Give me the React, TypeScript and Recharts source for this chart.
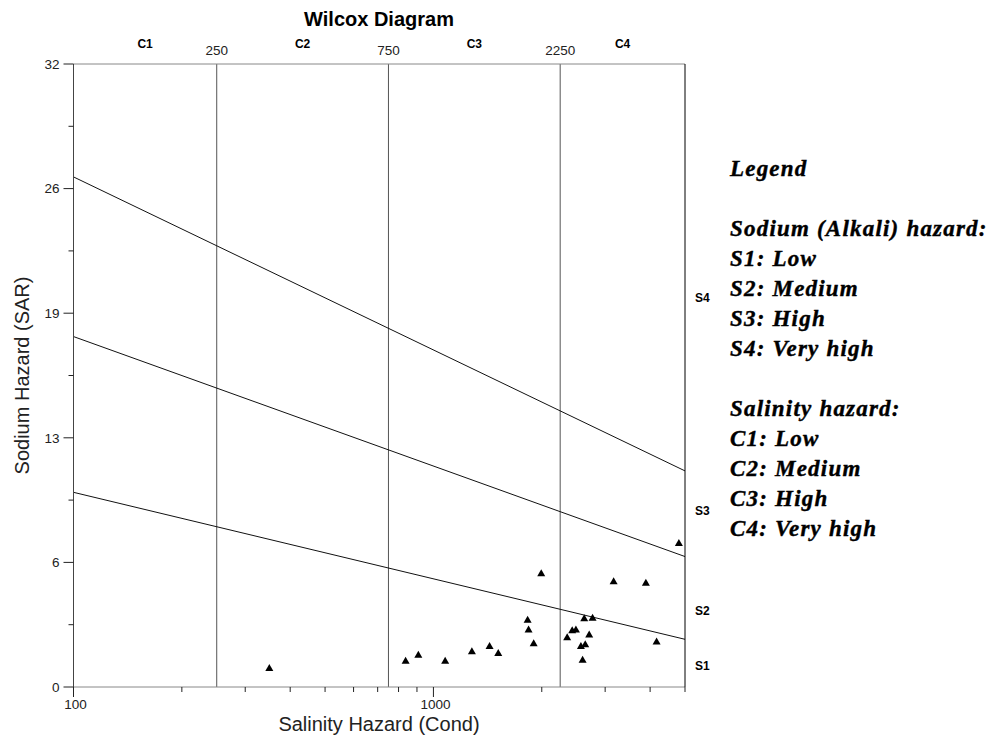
import React from "react";
import { ReferenceLine, Scatter, ScatterChart, XAxis, YAxis } from "recharts";

// samples
const ecValues = [350, 837, 908, 1078, 1279, 1432, 1514, 1827, 1838, 1899, 1993, 2353, 2430, 2488, 2569, 2641, 2597, 2624, 2709, 2768, 3167, 3893, 4169, 4808];
const sarValues = [0.95, 1.32, 1.62, 1.32, 1.8, 2.08, 1.72, 3.42, 2.92, 2.21, 5.81, 2.52, 2.88, 2.92, 2.08, 2.16, 1.37, 3.5, 2.66, 3.52, 5.4, 5.32, 2.31, 7.36];

// class boundaries
const salinityBounds = [100, 250, 750, 2250, 5000];
const salinityClasses = ["C1", "C2", "C3", "C4"];
const sodiumClasses = ["S1", "S2", "S3", "S4"];
const sodiumLabelAt = [1.1, 3.9, 9.05, 20];
const sodiumLines = [
  [{ x: 100, y: 10 }, { x: 5000, y: 2.45 }],
  [{ x: 100, y: 18 }, { x: 5000, y: 6.7 }],
  [{ x: 100, y: 26.2 }, { x: 5000, y: 11.1 }],
];

const condTicks = [100, 200, 300, 400, 500, 600, 700, 800, 900, 1000, 2000, 3000, 4000, 5000];
const condLabels = [100, 1000];
const sarTicks = [0, 3.2, 6.4, 9.6, 12.8, 16, 19.2, 22.4, 25.6, 28.8, 32];

const legendLines = [
  "Legend",
  "",
  "Sodium (Alkali) hazard:",
  "S1: Low",
  "S2: Medium",
  "S3: High",
  "S4: Very high",
  "",
  "Salinity hazard:",
  "C1: Low",
  "C2: Medium",
  "C3: High",
  "C4: Very high",
];

const samples = ecValues.map((ec, i) => ({ ec, sar: sarValues[i] }));
const classMid = salinityClasses.map((_, i) => Math.sqrt(salinityBounds[i] * salinityBounds[i + 1]));

const sans = "'Liberation Sans', Arial, sans-serif";

const CondTick = (props: any) => {
  const { x, y, payload } = props;
  const major = condLabels.includes(payload.value);
  return (
    <g>
      <line x1={x} x2={x} y1={y} y2={y + (major ? 10 : 5)} stroke="#222" />
      {major && (
        <text x={x + 2} y={y + 22} textAnchor="middle" fontSize={13.5} fill="#222">
          {payload.value}
        </text>
      )}
    </g>
  );
};

const SarTick = (props: any) => {
  const { x, y, payload, index } = props;
  const major = index % 2 === 0;
  return (
    <g>
      <line x1={x - (major ? 10 : 5)} x2={x} y1={y} y2={y} stroke="#222" />
      {major && (
        <text x={x - 14} y={y} dy="0.35em" textAnchor="end" fontSize={13.5} fill="#222">
          {Math.round(payload.value)}
        </text>
      )}
    </g>
  );
};

const SodiumTick = (props: any) => {
  const { x, y, payload } = props;
  return (
    <text x={x + 10} y={y} dy="0.35em" textAnchor="start" fontSize={12} fontWeight="bold" fill="#000">
      {sodiumClasses[sodiumLabelAt.indexOf(payload.value)]}
    </text>
  );
};

const Triangle = (props: any) => {
  const { cx, cy } = props;
  return <path d={`M${cx},${cy - 4.6}L${cx + 4},${cy + 2.4}L${cx - 4},${cy + 2.4}Z`} fill="#000" />;
};

export default function App() {
  return (
    <div style={{ position: "relative", width: 978, height: 727 }}>
      <div
        style={{
          position: "absolute",
          left: 221,
          top: 0,
          width: 300,
          textAlign: "center",
          font: `bold 20px ${sans}`,
          lineHeight: "22px",
        }}
      >
        Wilcox Diagram
      </div>
      <ScatterChart
        width={978}
        height={727}
        margin={{ top: 0, right: 261, bottom: 0, left: 0 }}
        style={{ fontFamily: sans }}
      >
        <XAxis
          dataKey="ec"
          type="number"
          scale="log"
          domain={[100, 5000]}
          allowDataOverflow
          ticks={condTicks}
          interval={0}
          height={48}
          tickSize={0}
          tickMargin={0}
          tickLine={false}
          tick={CondTick}
          axisLine={{ stroke: "#888" }}
        />
        <XAxis
          xAxisId="c"
          orientation="top"
          dataKey="ec"
          type="number"
          scale="log"
          domain={[100, 5000]}
          allowDataOverflow
          ticks={classMid}
          interval={0}
          height={56}
          tickSize={0}
          tickMargin={16}
          tickLine={false}
          tickFormatter={(v: number) => salinityClasses[classMid.indexOf(v)]}
          tick={{ fontSize: 12, fontWeight: "bold", fill: "#000" }}
          axisLine={{ stroke: "#888" }}
        />
        <YAxis
          dataKey="sar"
          type="number"
          domain={[0, 32]}
          ticks={sarTicks}
          interval={0}
          width={65.5}
          tickSize={0}
          tickMargin={0}
          tickLine={false}
          tick={SarTick}
          axisLine={{ stroke: "#444" }}
          label={{
            value: "Sodium Hazard (SAR)",
            angle: -90,
            position: "insideLeft",
            offset: 14,
            fontSize: 20,
            fill: "#222",
            style: { textAnchor: "middle" },
          }}
        />
        <YAxis
          yAxisId="s"
          orientation="right"
          dataKey="sar"
          type="number"
          domain={[0, 32]}
          allowDataOverflow
          ticks={sodiumLabelAt}
          interval={0}
          width={40}
          tickSize={0}
          tickMargin={0}
          tickLine={false}
          tick={SodiumTick}
          axisLine={{ stroke: "#000" }}
        />
        {salinityBounds.slice(1, 4).map((b) => (
          <ReferenceLine
            key={b}
            x={b}
            stroke="#555"
            label={{ value: String(b), position: "top", offset: 9, fontSize: 13.5, fill: "#222" }}
          />
        ))}
        {sodiumLines.map((seg, i) => (
          <ReferenceLine key={i} yAxisId="s" segment={seg} stroke="#111" ifOverflow="visible" />
        ))}
        <Scatter data={samples} shape={Triangle} fill="#000" isAnimationActive={false} />
      </ScatterChart>
      <div
        style={{
          position: "absolute",
          left: 171,
          top: 708,
          width: 400,
          textAlign: "center",
          font: `20px ${sans}`,
          lineHeight: "16px",
          color: "#222",
        }}
      >
        Salinity Hazard (Cond)
      </div>
      <div
        style={{
          position: "absolute",
          left: 722,
          top: 146,
          font: "italic bold 23px 'Liberation Serif', 'Times New Roman', serif",
          letterSpacing: 1.2,
          lineHeight: "30px",
          whiteSpace: "pre",
          color: "#000",
          WebkitTextStroke: "0.4px #000",
        }}
      >
        {legendLines.map((l, i) => (
          <div key={i}>{l || "\u00a0"}</div>
        ))}
      </div>
    </div>
  );
}
